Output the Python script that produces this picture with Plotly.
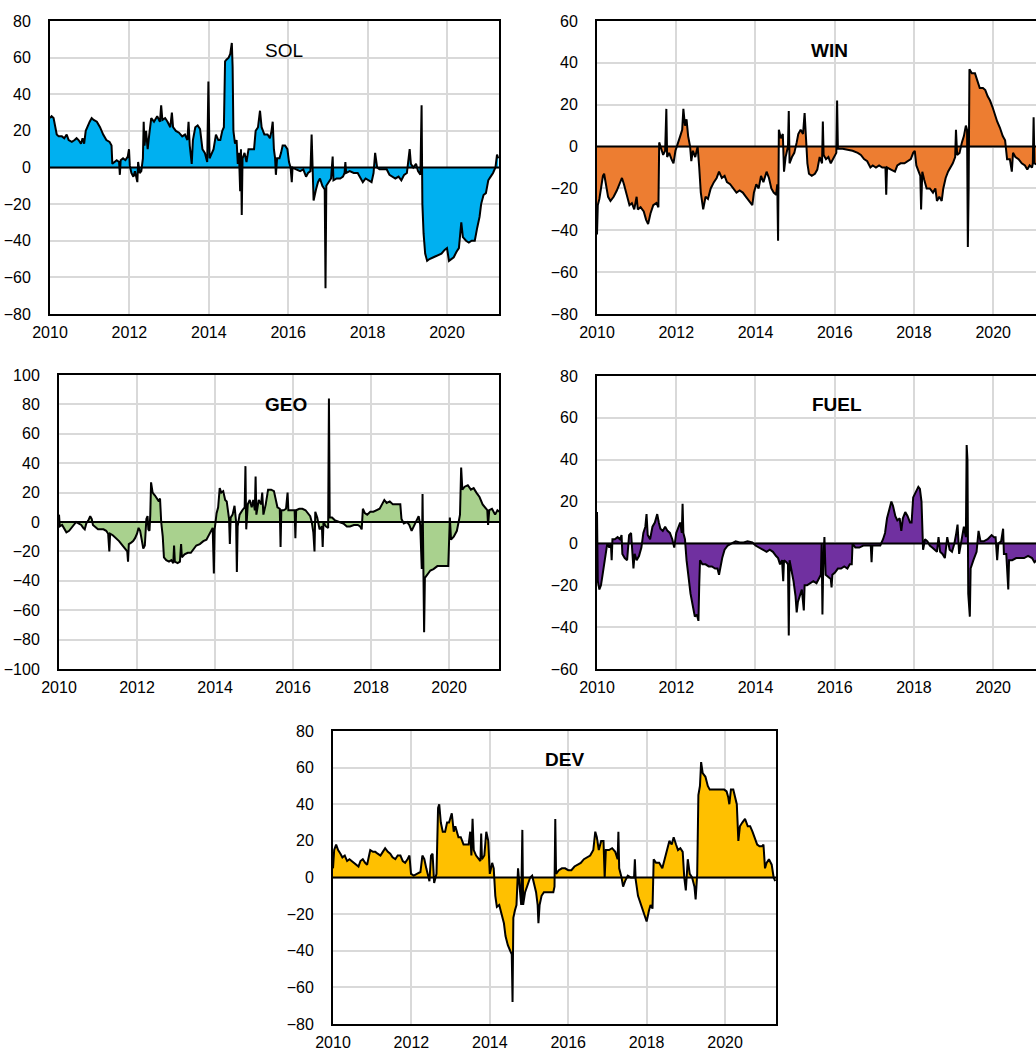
import plotly.graph_objects as go

# ---------------- data (time in fractional years, value) ----------------
sol = [
(2010.00, 27),(2010.04, 28),(2010.09, 27),(2010.13, 22),(2010.17, 18),(2010.22, 17),(2010.30, 17),(2010.36, 16),(2010.42, 18),(2010.47, 15),(2010.55, 14),(2010.62, 15),(2010.67, 16),(2010.72, 15),(2010.78, 13),(2010.82, 16),(2010.86, 13),(2010.90, 20),(2010.95, 23),(2011.00, 25),(2011.05, 27),(2011.10, 26),(2011.18, 25),(2011.26, 22),(2011.34, 18),(2011.42, 15),(2011.50, 14),(2011.55, 12),(2011.57, 2),(2011.62, 3),(2011.68, 4),(2011.74, 3),(2011.76, -4),(2011.78, 4),(2011.84, 5),(2011.90, 4),(2011.96, 6),(2011.99, 10),(2012.01, 1),(2012.05, -3),(2012.10, -5),(2012.14, -2),(2012.18, -6),(2012.20, -8),(2012.22, 3),(2012.26, -3),(2012.30, -2),(2012.34, 5),(2012.36, 25),(2012.38, 12),(2012.42, 20),(2012.46, 10),(2012.50, 18),(2012.55, 27),(2012.62, 25),(2012.70, 28),(2012.77, 25),(2012.80, 34),(2012.83, 26),(2012.90, 27),(2012.96, 25),(2013.03, 22),(2013.07, 30),(2013.10, 22),(2013.17, 20),(2013.25, 19),(2013.33, 17),(2013.40, 18),(2013.46, 15),(2013.49, 25),(2013.52, 12),(2013.57, 2),(2013.60, 15),(2013.66, 22),(2013.72, 23),(2013.78, 21),(2013.84, 10),(2013.90, 8),(2013.96, 3),(2013.99, 47),(2014.02, 5),(2014.07, 8),(2014.12, 10),(2014.18, 18),(2014.24, 15),(2014.29, 15),(2014.34, 20),(2014.38, 22),(2014.41, 58),(2014.45, 59),(2014.50, 60),(2014.54, 62),(2014.58, 68),(2014.60, 55),(2014.62, 20),(2014.66, 13),(2014.70, 15),(2014.73, 2),(2014.76, 8),(2014.79, -13),(2014.81, 10),(2014.83, -26),(2014.85, 5),(2014.90, 8),(2014.95, 3),(2015.00, 10),(2015.08, 10),(2015.14, 10),(2015.18, 20),(2015.24, 22),(2015.29, 31),(2015.33, 22),(2015.40, 18),(2015.48, 18),(2015.54, 16),(2015.58, 20),(2015.61, 25),(2015.64, 10),(2015.67, 5),(2015.69, -4),(2015.72, 5),(2015.78, 5),(2015.82, 8),(2015.86, 12),(2015.92, 12),(2015.98, 10),(2016.02, 3),(2016.06, 0),(2016.09, -8),(2016.11, 0),(2016.20, -1),(2016.30, -2),(2016.38, -1),(2016.45, -5),(2016.50, -3),(2016.56, -2),(2016.59, 18),(2016.61, -2),(2016.64, -18),(2016.70, -12),(2016.75, -8),(2016.80, -6),(2016.86, -10),(2016.92, -12),(2016.94, -66),(2016.96, -10),(2017.02, -8),(2017.08, -6),(2017.12, 6),(2017.14, -7),(2017.22, -6),(2017.31, -6),(2017.38, -5),(2017.42, -3),(2017.44, 3),(2017.46, -3),(2017.55, -2),(2017.65, -3),(2017.75, -3),(2017.82, -6),(2017.88, -8),(2017.95, -6),(2018.02, -7),(2018.10, -8),(2018.15, -3),(2018.19, 8),(2018.24, 0),(2018.30, -1),(2018.40, -1),(2018.48, -1),(2018.55, -4),(2018.62, -5),(2018.70, -6),(2018.78, -5),(2018.85, -7),(2018.92, -4),(2018.99, -3),(2019.06, 10),(2019.09, 2),(2019.15, 0),(2019.22, 2),(2019.27, -2),(2019.33, -4),(2019.36, 34),(2019.38, -20),(2019.41, -36),(2019.45, -47),(2019.50, -51),(2019.56, -50),(2019.66, -49),(2019.76, -48),(2019.86, -47),(2019.94, -45),(2020.00, -44),(2020.05, -51),(2020.10, -50),(2020.17, -49),(2020.24, -46),(2020.30, -44),(2020.36, -30),(2020.40, -38),(2020.48, -40),(2020.55, -41),(2020.62, -40),(2020.70, -40),(2020.76, -33),(2020.82, -27),(2020.86, -20),(2020.92, -15),(2020.98, -14),(2021.04, -7),(2021.10, -5),(2021.16, -3),(2021.22, 0),(2021.26, 7),(2021.29, 5),
]

win = [
(2010.00, -42),(2010.02, -28),(2010.06, -25),(2010.10, -20),(2010.15, -14),(2010.18, -13),(2010.22, -18),(2010.28, -24),(2010.34, -26),(2010.42, -24),(2010.50, -21),(2010.57, -18),(2010.63, -15),(2010.68, -18),(2010.75, -23),(2010.82, -28),(2010.88, -27),(2010.94, -30),(2011.00, -24),(2011.03, -30),(2011.10, -29),(2011.18, -31),(2011.24, -35),(2011.29, -37),(2011.35, -32),(2011.42, -28),(2011.50, -27),(2011.55, -29),(2011.57, 2),(2011.62, -1),(2011.67, -4),(2011.72, -2),(2011.75, 18),(2011.77, -5),(2011.82, -3),(2011.88, -6),(2011.93, -8),(2011.98, -2),(2012.04, 2),(2012.10, 5),(2012.15, 8),(2012.18, 18),(2012.22, 10),(2012.26, 13),(2012.30, 5),(2012.35, 0),(2012.38, -7),(2012.42, -2),(2012.48, -5),(2012.54, 0),(2012.58, -10),(2012.62, -22),(2012.68, -30),(2012.74, -24),(2012.80, -25),(2012.87, -20),(2012.95, -17),(2013.02, -15),(2013.08, -12),(2013.15, -15),(2013.22, -14),(2013.28, -17),(2013.36, -18),(2013.44, -20),(2013.52, -22),(2013.60, -21),(2013.68, -22),(2013.76, -24),(2013.84, -26),(2013.92, -28),(2013.96, -22),(2014.02, -18),(2014.08, -20),(2014.14, -14),(2014.20, -17),(2014.28, -12),(2014.34, -15),(2014.40, -20),(2014.46, -22),(2014.52, -23),(2014.55, -18),(2014.57, -45),(2014.59, 8),(2014.64, 4),(2014.69, 6),(2014.72, -12),(2014.76, -5),(2014.82, 0),(2014.84, 17),(2014.86, -8),(2014.92, -5),(2014.98, -3),(2015.04, 2),(2015.08, 6),(2015.14, 8),(2015.20, 6),(2015.24, 16),(2015.27, 3),(2015.31, -8),(2015.35, -13),(2015.42, -14),(2015.50, -13),(2015.56, -11),(2015.62, -5),(2015.68, -8),(2015.70, 12),(2015.72, -4),(2015.78, -6),(2015.84, -5),(2015.90, -8),(2015.96, -6),(2016.04, -3),(2016.06, 22),(2016.08, -1),(2016.20, -1),(2016.32, -1.5),(2016.45, -2),(2016.58, -3),(2016.66, -4),(2016.74, -6),(2016.82, -7),(2016.90, -10),(2016.96, -9),(2017.04, -10),(2017.12, -9),(2017.20, -10),(2017.28, -10),(2017.30, -23),(2017.32, -10),(2017.42, -11),(2017.52, -12),(2017.58, -9),(2017.66, -8),(2017.76, -8),(2017.84, -7),(2017.92, -6),(2017.98, -3),(2018.02, -2),(2018.06, -9),(2018.12, -12),(2018.16, -14),(2018.18, -30),(2018.21, -12),(2018.26, -16),(2018.32, -20),(2018.40, -20),(2018.48, -22),(2018.54, -20),(2018.58, -26),(2018.64, -24),(2018.70, -26),(2018.74, -20),(2018.80, -15),(2018.86, -12),(2018.92, -10),(2018.98, -8),(2019.04, -5),(2019.06, 8),(2019.09, -4),(2019.15, -3),(2019.21, 2),(2019.26, 5),(2019.31, 10),(2019.34, 8),(2019.36, -48),(2019.38, -20),(2019.40, 37),(2019.46, 35),(2019.54, 35),(2019.60, 31),(2019.66, 28),(2019.74, 28),(2019.80, 27),(2019.86, 24),(2019.92, 22),(2019.98, 19),(2020.04, 15),(2020.10, 12),(2020.17, 9),(2020.24, 5),(2020.30, 3),(2020.35, -6),(2020.42, -6),(2020.47, -12),(2020.50, -3),(2020.56, -5),(2020.64, -6),(2020.72, -8),(2020.80, -9),(2020.86, -11),(2020.92, -9),(2020.98, -10),(2021.00, -8),(2021.02, 14),(2021.04, -8),(2021.15, -9),(2021.30, -8),
]

geo = [
(2010.00, 5),(2010.02, -3),(2010.08, -2),(2010.14, -5),(2010.19, -7),(2010.26, -6),(2010.32, -4),(2010.38, -2),(2010.44, 0),(2010.50, -1),(2010.57, -2),(2010.62, -4),(2010.66, -5),(2010.70, -1),(2010.75, 1),(2010.80, 4),(2010.84, 2),(2010.87, -2),(2010.94, -4),(2011.00, -5),(2011.08, -5),(2011.14, -5),(2011.21, -6),(2011.26, -8),(2011.29, -20),(2011.31, -8),(2011.38, -9),(2011.47, -11),(2011.54, -13),(2011.60, -15),(2011.66, -17),(2011.71, -18),(2011.75, -20),(2011.77, -27),(2011.79, -15),(2011.85, -14),(2011.90, -13),(2011.95, -11),(2012.00, -8),(2012.04, -4),(2012.08, -6),(2012.12, -12),(2012.16, -18),(2012.20, -16),(2012.24, 2),(2012.27, 4),(2012.29, -5),(2012.32, -6),(2012.34, 5),(2012.36, 27),(2012.40, 20),(2012.46, 18),(2012.52, 16),(2012.56, 14),(2012.59, 16),(2012.62, 0),(2012.66, -10),(2012.69, -24),(2012.75, -26),(2012.82, -27),(2012.88, -26),(2012.93, -28),(2012.95, -16),(2012.97, -27),(2013.04, -28),(2013.10, -27),(2013.13, -15),(2013.15, -24),(2013.22, -22),(2013.30, -21),(2013.38, -21),(2013.44, -19),(2013.52, -16),(2013.61, -15),(2013.70, -13),(2013.78, -12),(2013.84, -9),(2013.90, -6),(2013.94, -4),(2013.97, -35),(2013.99, -5),(2014.04, 6),(2014.08, 10),(2014.12, 23),(2014.16, 20),(2014.21, 21),(2014.26, 15),(2014.30, 14),(2014.34, 5),(2014.36, 2),(2014.38, -15),(2014.40, 3),(2014.45, 5),(2014.50, 11),(2014.54, 0),(2014.56, -34),(2014.58, -3),(2014.63, 5),(2014.70, 8),(2014.76, 10),(2014.78, 38),(2014.80, -5),(2014.84, 12),(2014.89, 15),(2014.94, 10),(2014.98, 15),(2015.02, 8),(2015.04, 31),(2015.06, 5),(2015.12, 15),(2015.18, 12),(2015.21, 20),(2015.24, 5),(2015.30, 12),(2015.36, 22),(2015.44, 22),(2015.51, 21),(2015.56, 15),(2015.60, 10),(2015.66, 9),(2015.68, -17),(2015.70, 8),(2015.76, 8),(2015.82, 9),(2015.86, 20),(2015.88, 8),(2015.96, 8),(2016.04, 8),(2016.06, -11),(2016.08, 8),(2016.16, 9),(2016.24, 9),(2016.32, 8),(2016.38, 6),(2016.44, 4),(2016.48, 0),(2016.52, -7),(2016.55, -20),(2016.57, 7),(2016.62, 3),(2016.68, -5),(2016.74, -3),(2016.76, -17),(2016.78, 0),(2016.84, -3),(2016.90, -4),(2016.92, 84),(2016.94, 3),(2017.00, 3),(2017.08, 1),(2017.18, 0),(2017.29, -1),(2017.38, -3),(2017.46, -3),(2017.56, -2),(2017.66, -2),(2017.72, -3),(2017.76, -5),(2017.79, 9),(2017.84, 6),(2017.90, 5),(2017.98, 7),(2018.06, 7),(2018.14, 8),(2018.22, 9),(2018.28, 12),(2018.34, 15),(2018.40, 13),(2018.48, 14),(2018.56, 12),(2018.66, 12),(2018.75, 12),(2018.78, 2),(2018.84, -1),(2018.92, 0),(2018.98, -2),(2019.04, -6),(2019.10, -3),(2019.16, 1),(2019.22, 4),(2019.26, -2),(2019.30, -32),(2019.32, 19),(2019.34, -20),(2019.36, -75),(2019.38, -38),(2019.44, -36),(2019.52, -33),(2019.60, -32),(2019.70, -30),(2019.80, -30),(2019.90, -30),(2019.98, -30),(2020.02, 3),(2020.05, -12),(2020.12, -10),(2020.20, -6),(2020.26, 2),(2020.28, 5),(2020.31, 37),(2020.34, 22),(2020.40, 24),(2020.48, 25),(2020.56, 22),(2020.63, 23),(2020.70, 20),(2020.78, 17),(2020.86, 12),(2020.93, 10),(2020.98, 8),(2021.00, -2),(2021.03, 8),(2021.10, 9),(2021.18, 5),(2021.24, 8),(2021.29, 7),
]

fuel = [
(2010.00, 15),(2010.02, -18),(2010.06, -22),(2010.10, -20),(2010.14, -15),(2010.18, -10),(2010.22, -7),(2010.26, 0),(2010.31, -2),(2010.35, 0),(2010.37, -8),(2010.39, 2),(2010.45, 2),(2010.52, 3),(2010.58, 2),(2010.62, 4),(2010.64, -5),(2010.70, -7),(2010.76, -8),(2010.81, 4),(2010.86, 5),(2010.89, -2),(2010.92, -12),(2010.95, -5),(2011.00, -8),(2011.06, -6),(2011.12, -2),(2011.17, 5),(2011.22, 8),(2011.25, 14),(2011.28, 4),(2011.34, 2),(2011.40, 8),(2011.46, 10),(2011.52, 14),(2011.56, 10),(2011.60, 7),(2011.66, 6),(2011.72, 8),(2011.78, 6),(2011.84, 5),(2011.90, 2),(2011.95, -2),(2012.00, 5),(2012.06, 8),(2012.10, 10),(2012.14, 5),(2012.16, 19),(2012.18, 5),(2012.22, 2),(2012.26, -8),(2012.30, -15),(2012.36, -24),(2012.42, -30),(2012.47, -35),(2012.52, -34),(2012.56, -37),(2012.58, -20),(2012.60, -8),(2012.66, -10),(2012.74, -10),(2012.82, -11),(2012.90, -11),(2012.98, -12),(2013.04, -12),(2013.08, -15),(2013.12, -10),(2013.16, -7),(2013.22, -3),(2013.30, -1),(2013.40, 0),(2013.50, 1),(2013.60, 0.5),(2013.70, 0.5),(2013.80, 1),(2013.92, 0.5),(2014.00, -1),(2014.10, -2),(2014.20, -3),(2014.28, -4),(2014.36, -3),(2014.44, -4),(2014.52, -6),(2014.57, -7),(2014.62, -10),(2014.67, -8),(2014.70, -18),(2014.72, -8),(2014.78, -9),(2014.82, -10),(2014.84, -44),(2014.86, -8),(2014.90, -12),(2014.96, -18),(2015.01, -25),(2015.04, -33),(2015.07, -28),(2015.12, -25),(2015.17, -22),(2015.22, -32),(2015.24, -20),(2015.30, -20),(2015.38, -19),(2015.46, -18),(2015.54, -19),(2015.60, -17),(2015.65, -15),(2015.67, 0),(2015.69, -34),(2015.71, -10),(2015.74, 3),(2015.77, -15),(2015.84, -16),(2015.90, -17),(2015.92, -21),(2015.94, -15),(2016.00, -14),(2016.08, -12),(2016.16, -12),(2016.24, -11),(2016.32, -12),(2016.38, -10),(2016.43, -10),(2016.45, 0),(2016.52, -2),(2016.62, -2),(2016.72, -1),(2016.82, -1),(2016.91, -1),(2016.93, -9),(2016.95, -1),(2017.05, -1),(2017.15, -1),(2017.22, 2),(2017.27, 5),(2017.32, 12),(2017.37, 16),(2017.43, 20),(2017.47, 18),(2017.53, 13),(2017.58, 11),(2017.64, 12),(2017.68, 6),(2017.72, 12),(2017.78, 15),(2017.84, 13),(2017.90, 10),(2017.94, 10),(2017.98, 22),(2018.04, 24),(2018.11, 27),(2018.15, 26),(2018.19, 20),(2018.23, -3),(2018.28, 2),(2018.34, 1),(2018.40, -1),(2018.46, -2),(2018.52, -3),(2018.58, -4),(2018.62, 3),(2018.66, -4),(2018.72, -5),(2018.78, -7),(2018.84, 3),(2018.90, -3),(2018.96, -4),(2019.02, 0),(2019.06, 4),(2019.10, 9),(2019.14, -5),(2019.20, 2),(2019.26, 8),(2019.31, 3),(2019.33, 47),(2019.35, 40),(2019.37, -24),(2019.41, -35),(2019.43, -12),(2019.50, -8),(2019.58, -4),(2019.63, 6),(2019.68, 1),(2019.76, 1),(2019.86, 2),(2019.96, 4),(2020.02, 3),(2020.06, 3),(2020.10, -8),(2020.13, 0),(2020.20, 1),(2020.25, 7),(2020.27, -5),(2020.33, -5),(2020.38, -22),(2020.40, -8),(2020.48, -8),(2020.58, -7),(2020.68, -7),(2020.78, -7),(2020.88, -6),(2020.98, -7),(2021.04, -9),(2021.10, -8),(2021.30, -8),
]

dev = [
(2010.00, 5),(2010.03, 15),(2010.08, 18),(2010.13, 15),(2010.19, 13),(2010.24, 11),(2010.30, 12),(2010.36, 9),(2010.42, 10),(2010.48, 9),(2010.53, 8),(2010.59, 7),(2010.65, 6),(2010.70, 9),(2010.76, 10),(2010.82, 8),(2010.87, 7),(2010.92, 12),(2010.95, 15),(2011.02, 14),(2011.08, 14),(2011.14, 13),(2011.21, 12),(2011.27, 14),(2011.33, 16),(2011.40, 14),(2011.46, 13),(2011.52, 11),(2011.59, 10),(2011.65, 12),(2011.72, 12),(2011.78, 9),(2011.84, 8),(2011.90, 10),(2011.95, 12),(2011.99, 2),(2012.06, 1),(2012.14, 2),(2012.23, 3),(2012.28, 12),(2012.33, 10),(2012.38, 5),(2012.43, 0),(2012.46, -2),(2012.50, 12),(2012.54, 13),(2012.58, -3),(2012.64, 2),(2012.68, 38),(2012.71, 40),(2012.75, 30),(2012.80, 25),(2012.86, 25),(2012.91, 30),(2012.96, 30),(2013.03, 35),(2013.08, 25),(2013.12, 28),(2013.20, 22),(2013.26, 22),(2013.33, 18),(2013.40, 18),(2013.46, 18),(2013.50, 25),(2013.53, 12),(2013.56, 32),(2013.59, 15),(2013.65, 12),(2013.72, 10),(2013.76, 9),(2013.78, 24),(2013.80, 10),(2013.86, 12),(2013.91, 25),(2013.96, 20),(2014.00, 2),(2014.06, 8),(2014.10, 5),(2014.14, -10),(2014.18, -16),(2014.24, -15),(2014.30, -20),(2014.36, -25),(2014.40, -32),(2014.46, -37),(2014.52, -40),(2014.56, -42),(2014.58, -68),(2014.60, -22),(2014.64, -18),(2014.68, -15),(2014.72, 5),(2014.76, -5),(2014.80, -15),(2014.83, 26),(2014.85, -15),(2014.90, -8),(2014.96, -4),(2015.03, 0),(2015.08, 1),(2015.12, -3),(2015.18, -8),(2015.22, -15),(2015.24, -25),(2015.27, -15),(2015.32, -10),(2015.38, -8),(2015.46, -8),(2015.54, -8),(2015.62, -8),(2015.65, -5),(2015.67, 32),(2015.69, 2),(2015.76, 4),(2015.84, 5),(2015.92, 5),(2016.00, 4),(2016.08, 4),(2016.16, 6),(2016.24, 7),(2016.32, 8),(2016.40, 10),(2016.48, 11),(2016.56, 12),(2016.64, 15),(2016.69, 25),(2016.73, 22),(2016.78, 15),(2016.84, 20),(2016.90, 20),(2016.93, 0),(2016.96, 15),(2017.04, 15),(2017.12, 16),(2017.20, 14),(2017.26, 10),(2017.28, 25),(2017.30, 5),(2017.36, 0),(2017.40, -5),(2017.45, -2),(2017.52, 1),(2017.60, 0),(2017.68, 0),(2017.70, 10),(2017.72, -1),(2017.78, -10),(2017.86, -15),(2017.94, -20),(2018.00, -24),(2018.06, -18),(2018.10, -15),(2018.15, -17),(2018.18, 10),(2018.24, 8),(2018.32, 8),(2018.40, 5),(2018.46, 10),(2018.52, 15),(2018.58, 20),(2018.64, 18),(2018.69, 22),(2018.75, 18),(2018.80, 15),(2018.86, 16),(2018.92, 14),(2018.96, 0),(2019.00, -7),(2019.05, 10),(2019.10, 2),(2019.16, 0),(2019.22, -5),(2019.25, -12),(2019.29, 2),(2019.32, 45),(2019.36, 50),(2019.39, 63),(2019.43, 57),(2019.50, 55),(2019.56, 50),(2019.61, 48),(2019.70, 48),(2019.80, 48),(2019.90, 48),(2019.98, 48),(2020.04, 47),(2020.08, 44),(2020.11, 40),(2020.15, 48),(2020.21, 48),(2020.26, 43),(2020.30, 40),(2020.34, 20),(2020.38, 28),(2020.44, 30),(2020.51, 32),(2020.58, 28),(2020.64, 28),(2020.70, 25),(2020.76, 21),(2020.82, 18),(2020.88, 17),(2020.94, 17),(2020.98, 18),(2021.02, 5),(2021.06, 8),(2021.12, 10),(2021.19, 7),(2021.24, 0),(2021.28, -2),
]

series_names = ["SOL", "WIN", "GEO", "FUEL", "DEV"]
series_data = [sol, win, geo, fuel, dev]
x_tick_years = [2010, 2012, 2014, 2016, 2018, 2020]

# ---------------- styling / layout ----------------
W, H = 1036, 1050
colors = ["#00B0F0", "#ED7D31", "#A9D18E", "#7030A0", "#FFC000"]
# plot boxes in pixels: left, top, right, bottom
boxes = [(50, 21, 499, 314), (597, 21, 1036, 314),
         (59, 375, 499, 669), (597, 376, 1036, 669),
         (333, 731, 776, 1024)]
x_ends = [2021.31, 2021.08, 2021.28, 2021.08, 2021.30]
y_ranges = [(-80, 80), (-80, 60), (-100, 100), (-60, 80), (-80, 80)]
open_right = [False, True, False, True, False]
title_pos = [(284, 50), (829, 50), (286, 405), (837, 405), (564, 759)]
title_bold = [False, True, True, True, True]

FONT = "Arial, 'Liberation Sans', sans-serif"
fig = go.Figure()
layout = dict(width=W, height=H, margin=dict(l=0, r=0, t=0, b=0, autoexpand=False),
              paper_bgcolor="white", plot_bgcolor="white", showlegend=False,
              font=dict(family=FONT, size=16, color="#000"))
shapes, annotations = [], []

for i, (name, data) in enumerate(zip(series_names, series_data)):
    n = "" if i == 0 else str(i + 1)
    l, t, r, b = boxes[i]
    xs = [p[0] for p in data]
    ys = [p[1] for p in data]
    fig.add_trace(go.Scatter(x=xs, y=ys, mode="lines", fill="tozeroy",
                             fillcolor=colors[i], line=dict(color="black", width=2),
                             xaxis="x" + n, yaxis="y" + n, hoverinfo="skip"))
    y0, y1 = y_ranges[i]
    layout["xaxis" + n] = dict(
        domain=[l / W, r / W], anchor="y" + n, range=[2010, x_ends[i]],
        tickmode="array", tickvals=x_tick_years, ticktext=[str(v) for v in x_tick_years],
        showgrid=True, gridcolor="#d9d9d9", gridwidth=1.5, zeroline=False,
        showline=True, linecolor="black", linewidth=2, mirror=True, automargin=False,
        ticks="", ticklabelstandoff=3, tickfont=dict(size=16, color="#000"))
    layout["yaxis" + n] = dict(
        domain=[1 - b / H, 1 - t / H], anchor="x" + n, range=[y0, y1],
        tickmode="linear", tick0=y0, dtick=20, automargin=False,
        showgrid=True, gridcolor="#d9d9d9", gridwidth=1.5, zeroline=False,
        showline=True, linecolor="black", linewidth=2,
        mirror=False if open_right[i] else True,
        ticks="", ticklabelstandoff=14, tickfont=dict(size=16, color="#000"))
    shapes.append(dict(type="line", xref="x" + n + " domain", yref="y" + n,
                       x0=0, x1=1, y0=0, y1=0, layer="above",
                       line=dict(color="black", width=2)))
    tx, ty = title_pos[i]
    annotations.append(dict(x=tx / W, y=1 - ty / H, xref="paper", yref="paper",
                            text=("<b>%s</b>" % name) if title_bold[i] else name,
                            showarrow=False, xanchor="center", yanchor="middle",
                            font=dict(size=19, color="#000", family=FONT)))

layout["shapes"] = shapes
layout["annotations"] = annotations
fig.update_layout(**layout)

fig.write_html("out.html", config={"displayModeBar": False},
               post_script="document.body.style.margin='0';document.body.style.overflow='hidden';")
